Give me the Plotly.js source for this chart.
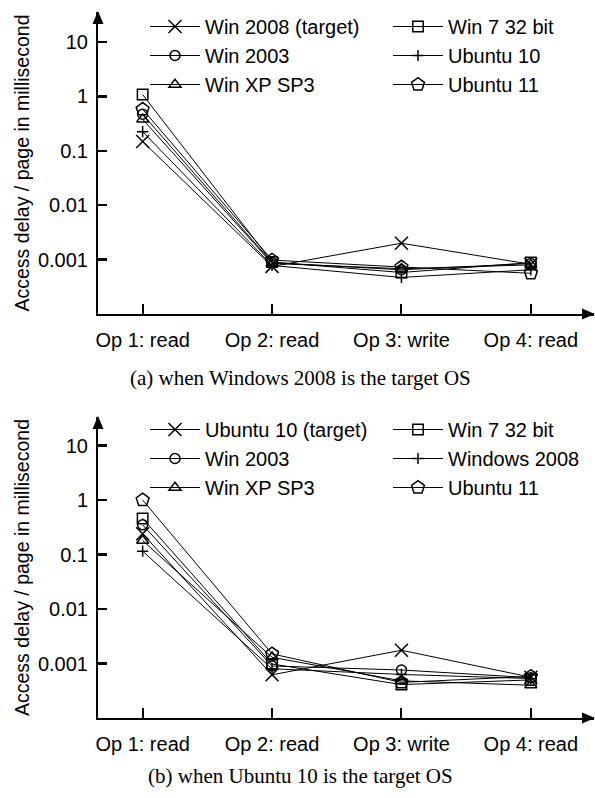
<!DOCTYPE html>
<html><head><meta charset="utf-8">
<script src="https://cdn.plot.ly/plotly-3.0.1.min.js"></script>
<style>html,body{margin:0;padding:0;background:#fff}#chart{width:595px;height:798px}</style>
</head><body><div id="chart"></div>
<script>
// ---------- data ----------
const operations = ['Op 1: read', 'Op 2: read', 'Op 3: write', 'Op 4: read'];
const yTickVals = [0.001, 0.01, 0.1, 1, 10];
const yTickText = ['0.001', '0.01', '0.1', '1', '10'];

// (a) Windows 2008 is the target OS
const namesA = ['Win 2008 (target)', 'Win 2003', 'Win XP SP3', 'Win 7 32 bit', 'Ubuntu 10', 'Ubuntu 11'];
const win2008TargetA = [0.148, 0.00075, 0.0020, 0.00082];
const win2003A       = [0.47, 0.00088, 0.00065, 0.00085];
const winXPA         = [0.38, 0.00085, 0.00068, 0.00080];
const win7A          = [1.08, 0.00090, 0.00058, 0.00088];
const ubuntu10A      = [0.225, 0.00078, 0.00047, 0.00065];
const ubuntu11A      = [0.58, 0.00098, 0.00073, 0.00056];

// (b) Ubuntu 10 is the target OS
const namesB = ['Ubuntu 10 (target)', 'Win 2003', 'Win XP SP3', 'Win 7 32 bit', 'Windows 2008', 'Ubuntu 11'];
const ubuntu10TargetB = [0.24, 0.00062, 0.00175, 0.00056];
const win2003B        = [0.35, 0.00090, 0.00076, 0.00055];
const winXPB          = [0.18, 0.0013, 0.00048, 0.00040];
const win7B           = [0.46, 0.00098, 0.00041, 0.00050];
const windows2008B    = [0.115, 0.00080, 0.00063, 0.00053];
const ubuntu11B       = [1.0, 0.0015, 0.00045, 0.00058];

const captionA = '(a) when Windows 2008 is the target OS';
const captionB = '(b) when Ubuntu 10 is the target OS';
const yTitle = 'Access delay / page in millisecond';

// ---------- styling ----------
const W = 595, H = 798;
const px = x => x / W;
const py = y => 1 - y / H;
const SANS = 'Liberation Sans, Arial, sans-serif';
const SERIF = 'Liberation Serif, Times New Roman, serif';
const FS = 20;

const symbols = ['x-thin-open', 'circle-open', 'triangle-up-open', 'square-open', 'cross-thin-open', 'pentagon-open'];
const sizes = [13, 10, 10.5, 10.5, 8, 13.5];

function mk(name, ys, i, xa, ya, legendId) {
  return {
    type: 'scatter', mode: 'lines+markers', name: name,
    x: operations, y: ys, xaxis: xa, yaxis: ya, legend: legendId,
    line: {color: '#000', width: 1},
    marker: {symbol: symbols[i], size: sizes[i], color: '#000',
             line: {color: '#000', width: 1.5}},
    cliponaxis: false
  };
}

const seriesA = [win2008TargetA, win2003A, winXPA, win7A, ubuntu10A, ubuntu11A];
const seriesB = [ubuntu10TargetB, win2003B, winXPB, win7B, windows2008B, ubuntu11B];
const traces = [];
seriesA.forEach((s, i) => traces.push(mk(namesA[i], s, i, 'x', 'y', i < 3 ? 'legend' : 'legend2')));
seriesB.forEach((s, i) => traces.push(mk(namesB[i], s, i, 'x2', 'y2', i < 3 ? 'legend3' : 'legend4')));

const xDomain = [px(98), px(594)];
const xRange = [-0.345, 3.488];

function xAxis(anchor) {
  return {
    type: 'category', anchor: anchor, domain: xDomain, range: xRange,
    showline: true, linecolor: '#000', linewidth: 2,
    ticks: 'inside', ticklen: 10, tickwidth: 2, tickcolor: '#000',
    showgrid: false, zeroline: false, automargin: false,
    tickfont: {family: SANS, size: FS, color: '#000'},
    ticklabelstandoff: 7
  };
}
function yAxis(anchor, domain, top) {
  return {
    type: 'log', anchor: anchor, domain: domain, range: [-4, top],
    tickvals: yTickVals, ticktext: yTickText,
    showline: true, linecolor: '#000', linewidth: 2,
    ticks: 'inside', ticklen: 9, tickwidth: 2.5, tickcolor: '#000',
    showgrid: false, zeroline: false, automargin: false,
    tickfont: {family: SANS, size: FS, color: '#000'},
    ticklabelstandoff: 4,
    title: {text: yTitle, font: {family: SANS, size: FS - 0.5, color: '#000'}, standoff: 3}
  };
}

function legend(xLeft, yTop) {
  return {
    x: px(xLeft), xanchor: 'left', y: py(yTop), yanchor: 'top',
    orientation: 'v', bgcolor: 'rgba(0,0,0,0)', borderwidth: 0,
    itemwidth: 50, traceorder: 'normal',
    font: {family: SANS, size: FS, color: '#000'}
  };
}

function arrowUp(xTip, yTip) {
  return {type: 'path', xref: 'paper', yref: 'paper',
    path: `M${px(xTip)},${py(yTip)} L${px(xTip - 5.5)},${py(yTip + 13)} L${px(xTip + 5.5)},${py(yTip + 13)} Z`,
    fillcolor: '#000', line: {width: 0}};
}
function arrowRight(xTip, yTip) {
  return {type: 'path', xref: 'paper', yref: 'paper',
    path: `M${px(xTip)},${py(yTip)} L${px(xTip - 13)},${py(yTip - 5.5)} L${px(xTip - 13)},${py(yTip + 5.5)} Z`,
    fillcolor: '#000', line: {width: 0}};
}

const layout = {
  width: W, height: H, margin: {l: 0, r: 0, t: 0, b: 0},
  paper_bgcolor: '#fff', plot_bgcolor: 'rgba(0,0,0,0)',
  font: {family: SANS, size: FS, color: '#000'},
  xaxis: xAxis('y'),
  yaxis: yAxis('x', [py(314), py(12)], -4 + (314 - 12) / 54.4),
  xaxis2: xAxis('y2'),
  yaxis2: yAxis('x2', [py(718), py(417)], -4 + (718 - 417) / 54.5),
  showlegend: true,
  legend: legend(145, 7),
  legend2: legend(388, 7),
  legend3: legend(145, 410),
  legend4: legend(388, 410),
  shapes: [arrowUp(98, 11), arrowRight(595, 314), arrowUp(98, 416), arrowRight(595, 718)],
  annotations: [
    {text: captionA, xref: 'paper', yref: 'paper', x: px(300), y: py(378), xanchor: 'center', yanchor: 'middle',
     showarrow: false, font: {family: SERIF, size: 21, color: '#000'}},
    {text: captionB, xref: 'paper', yref: 'paper', x: px(300), y: py(776), xanchor: 'center', yanchor: 'middle',
     showarrow: false, font: {family: SERIF, size: 21, color: '#000'}}
  ]
};

Plotly.newPlot('chart', traces, layout, {staticPlot: true, displayModeBar: false});
</script>
</body></html>
